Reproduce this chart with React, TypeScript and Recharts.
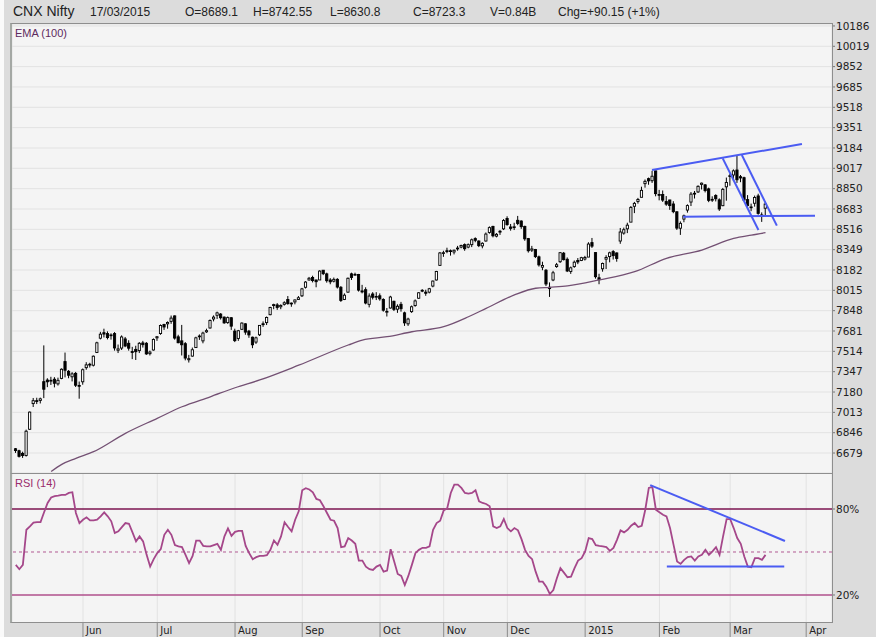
import { ComposedChart, Bar, Line, XAxis, YAxis, CartesianGrid, ReferenceLine } from 'recharts'

// CNX Nifty daily candles, 6 May 2014 .. 17 Mar 2015 (one entry per trading day)
const opens = [
    6714, 6698, 6676, 6659, 6874, 7085, 7109, 7111, 7265, 7278, 7270, 7285, 7247, 7292, 7430, 7350, 7305, 7333, 7234,
    7264, 7380, 7408, 7400, 7505, 7622, 7667, 7660, 7647, 7660, 7523, 7541, 7616, 7580, 7512, 7530, 7520, 7583, 7580, 7495, 7525,
    7625, 7660, 7735, 7740, 7760, 7805, 7633, 7600, 7577, 7445, 7475, 7545, 7640, 7600, 7674, 7706, 7780, 7810, 7820, 7795, 7750, 7790,
    7680, 7620, 7695, 7740, 7680, 7630, 7590, 7650, 7740, 7750, 7815, 7890, 7895, 7880, 7900, 7940, 7910, 7920, 7940,
    7970, 8040, 8100, 8120, 8100, 8100, 8180, 8150, 8100, 8090, 8105, 8040, 7940, 8000, 8150, 8140, 8145, 8010, 8020, 7900, 7985, 7960,
    7970, 7940, 7840, 7870, 7925, 7860, 7900, 7830, 7740, 7840, 7890, 7950, 8015, 8000, 8000, 8050, 8100, 8220,
    8320, 8340, 8340, 8330, 8360, 8370, 8390, 8370, 8390, 8440, 8420, 8380, 8420, 8490, 8540, 8460, 8500, 8520,
    8605, 8535, 8530, 8590, 8584, 8540, 8440, 8345, 8350, 8290, 8205, 8180, 8040, 8100, 8210, 8250, 8320, 8270, 8170, 8210, 8260, 8260,
    8272, 8288, 8407, 8325, 8118, 8192, 8271, 8292, 8333, 8322, 8420, 8485, 8520, 8575, 8705, 8745, 8779, 8891, 8932, 8915, 8996,
    8802, 8802, 8744, 8757, 8724, 8660, 8525, 8600, 8674, 8740, 8812, 8823, 8885, 8881, 8848, 8755, 8794, 8758, 8710, 8865,
    8953, 8962, 9003, 8948, 8940, 8760, 8695, 8730, 8790, 8634, 8689.1,
]
const highs = [
    6720, 6706, 6690, 6871, 7020, 7131, 7133, 7134, 7563, 7293, 7305, 7302, 7298, 7374, 7504, 7360, 7343, 7345, 7266,
    7373, 7425, 7420, 7480, 7593, 7674, 7700, 7678, 7662, 7672, 7570, 7645, 7632, 7605, 7551, 7560, 7590, 7600, 7590, 7520, 7620,
    7640, 7735, 7740, 7760, 7808, 7809, 7650, 7731, 7590, 7485, 7545, 7634, 7653, 7675, 7700, 7776, 7809, 7840, 7828, 7800, 7800, 7795,
    7700, 7690, 7752, 7745, 7690, 7635, 7635, 7730, 7760, 7800, 7880, 7905, 7910, 7900, 7925, 7968, 7915, 7940, 7968,
    8035, 8090, 8125, 8135, 8102, 8180, 8180, 8160, 8115, 8120, 8115, 8050, 7990, 8120, 8160, 8160, 8150, 8060, 8040, 7990, 8000, 8000,
    7990, 7950, 7870, 7970, 7930, 7900, 7920, 7840, 7790, 7890, 7940, 8000, 8025, 8020, 8035, 8095, 8175, 8330,
    8340, 8365, 8350, 8350, 8380, 8390, 8400, 8400, 8440, 8450, 8425, 8410, 8490, 8540, 8545, 8485, 8510, 8600,
    8623, 8560, 8570, 8626, 8590, 8546, 8445, 8380, 8355, 8300, 8250, 8190, 8080, 8175, 8240, 8330, 8330, 8285, 8210, 8260, 8280, 8290,
    8298, 8410, 8445, 8327, 8151, 8243, 8303, 8332, 8345, 8326, 8527, 8530, 8570, 8707, 8741, 8774, 8866, 8925, 8941, 8996, 8997,
    8840, 8835, 8789, 8758, 8747, 8663, 8581, 8637, 8721, 8822, 8831, 8877, 8900, 8887, 8858, 8787, 8804, 8770, 8856, 8941,
    8973, 9008, 9119, 8962, 8948, 8797, 8727, 8793, 8808, 8655, 8742.55,
]
const lows = [
    6680, 6642, 6639, 6650, 6869, 7057, 7081, 7086, 7130, 7220, 7238, 7218, 7233, 7285, 7300, 7293, 7267, 7221, 7125,
    7240, 7363, 7381, 7390, 7500, 7612, 7628, 7612, 7610, 7520, 7500, 7525, 7548, 7520, 7450, 7443, 7500, 7545, 7485, 7480, 7520,
    7600, 7650, 7690, 7700, 7740, 7610, 7580, 7480, 7440, 7422, 7470, 7542, 7608, 7580, 7666, 7700, 7760, 7780, 7775, 7740, 7740, 7690,
    7590, 7600, 7690, 7650, 7625, 7540, 7575, 7640, 7715, 7730, 7810, 7860, 7855, 7860, 7890, 7897, 7880, 7900, 7936,
    7960, 8030, 8095, 8080, 8040, 8100, 8140, 8078, 8065, 8080, 8030, 7920, 7935, 7995, 8100, 8135, 8005, 7990, 7900, 7875, 7940, 7935,
    7930, 7840, 7800, 7865, 7845, 7830, 7840, 7723, 7723, 7830, 7880, 7945, 8000, 7970, 7990, 8040, 8095, 8215,
    8290, 8320, 8300, 8310, 8340, 8360, 8340, 8360, 8370, 8410, 8370, 8360, 8415, 8480, 8450, 8450, 8470, 8510,
    8545, 8505, 8510, 8550, 8520, 8422, 8325, 8330, 8280, 8210, 8180, 8050, 7961, 8090, 8200, 8240, 8260, 8165, 8150, 8200, 8230, 8255,
    8260, 8288, 8363, 8111, 8065, 8168, 8190, 8245, 8268, 8250, 8397, 8472, 8485, 8575, 8649, 8727, 8779, 8858, 8882, 8897, 8787,
    8754, 8741, 8709, 8676, 8648, 8511, 8470, 8574, 8653, 8707, 8769, 8815, 8843, 8819, 8739, 8741, 8745, 8667, 8706, 8751,
    8874, 8912, 8897, 8903, 8751, 8701, 8665, 8702, 8636, 8577, 8630.8,
]
const closes = [
    6699, 6652, 6659, 6858, 7015, 7109, 7108, 7124, 7203, 7264, 7276, 7252, 7276, 7367, 7359, 7318, 7329, 7236, 7230,
    7363, 7403, 7403, 7474, 7584, 7655, 7656, 7627, 7649, 7542, 7534, 7632, 7558, 7540, 7511, 7511, 7580, 7569, 7493, 7508, 7611,
    7634, 7726, 7714, 7751, 7787, 7623, 7585, 7568, 7459, 7454, 7527, 7625, 7640, 7664, 7684, 7767, 7795, 7830, 7790, 7748, 7791, 7721,
    7602, 7683, 7746, 7672, 7649, 7568, 7625, 7727, 7739, 7792, 7874, 7898, 7875, 7891, 7913, 7906, 7904, 7936, 7954,
    8027, 8083, 8114, 8095, 8086, 8173, 8152, 8094, 8085, 8105, 8042, 7932, 7975, 8114, 8121, 8146, 8017, 8002, 7911, 7968, 7958, 7965,
    7945, 7852, 7842, 7960, 7859, 7884, 7864, 7748, 7779, 7880, 7928, 7995, 8014, 7991, 8028, 8091, 8170, 8322,
    8324, 8338, 8337, 8344, 8362, 8383, 8357, 8390, 8430, 8426, 8382, 8401, 8477, 8530, 8463, 8475, 8494, 8588,
    8555, 8524, 8537, 8564, 8538, 8438, 8340, 8355, 8292, 8224, 8219, 8067, 8029, 8159, 8225, 8324, 8267, 8174, 8200, 8246, 8248, 8283,
    8285, 8395, 8378, 8127, 8102, 8235, 8285, 8323, 8300, 8277, 8494, 8513, 8550, 8696, 8729, 8761, 8836, 8910, 8914, 8952, 8809,
    8797, 8756, 8723, 8711, 8661, 8526, 8565, 8627, 8711, 8805, 8809, 8869, 8895, 8834, 8754, 8762, 8767, 8683, 8844, 8901,
    8956, 8996, 8923, 8938, 8756, 8712, 8700, 8777, 8647, 8633, 8723.3,
]

// RSI (14)
const rsiValues = [
    41, 38, 41, 65.5, 67.9, 70.5, 70.9, 70.9, 77.7, 84.2, 88, 89, 89.3, 89.8, 89.8, 91.2, 91.7, 77.2, 70.2,
    72.5, 74.2, 72.1, 72.1, 72.5, 74.9, 77.7, 74.9, 71.4, 63.2, 64.4, 67.4, 70.2, 69.7, 63.7, 57.4, 60.9, 57.4, 48, 39.8, 45,
    49.2, 52, 62, 65.5, 62, 54.8, 53.9, 53.4, 48, 42.2, 47.3, 58, 58, 54.3, 53.9, 53.9, 54.8, 55.7, 51.5, 60.9, 66.5, 61.3,
    64.1, 64.8, 64.8, 54.3, 49.2, 45, 46.4, 47.3, 47.3, 47.8, 51.5, 58, 55, 60.9, 70.7, 67.4, 64.4, 72.5, 78.4,
    93.1, 94.5, 93.6, 91.7, 87, 86.1, 81.9, 77.2, 72.5, 71.8, 66.7, 53.4, 53.9, 59.7, 58, 55.7, 44, 44, 39.8, 38, 37.5, 39.8,
    41, 36.3, 37, 52, 43.4, 34.7, 33.3, 27, 33.3, 41, 49.2, 51.5, 52.9, 52.9, 53.9, 65.5, 70.2, 71.8,
    79, 80.5, 91.2, 97, 97, 94.7, 91.2, 90.8, 91.2, 93.1, 85.4, 84.2, 83.5, 81.9, 67.9, 66.7, 67.9, 73,
    66.7, 64.4, 66.7, 65.1, 59, 51.5, 47.3, 45, 36.3, 29.3, 29.3, 25.8, 20.7, 23.5, 31.7, 38.7, 35.6, 32.4, 32.8, 38.7, 44, 45.7,
    50.4, 59.7, 59, 54.8, 54.3, 53.9, 53.4, 50.8, 52.9, 58.5, 65.1, 63.7, 65.5, 68.3, 70.2, 67.4, 68.3, 79.5, 94.7, 95.4, 79.5,
    77.7, 76, 74.9, 66.7, 55, 43.4, 41.7, 44.5, 46.4, 46.9, 44, 46.9, 48, 51.5, 48, 50.4, 53.4, 48, 60.9, 73,
    73, 66.7, 59.7, 55.7, 46.9, 39.8, 39.4, 45.7, 45.7, 44.5, 48,
]

// EMA (100) at these trading-day positions
const emaDays = [10, 13, 17, 22, 31, 40, 47, 55, 62, 69, 80, 94, 98, 105, 112, 121, 128, 133, 141, 147, 151, 156, 165, 175, 184, 194, 203, 208, 212]
const emaValues = [6527, 6586, 6635, 6690, 6841, 6964, 7059, 7141, 7215, 7279, 7400, 7566, 7607, 7634, 7675, 7716, 7798, 7867, 7977, 8032, 8040, 8051, 8100, 8168, 8278, 8346, 8442, 8469, 8488]

// first trading day of each month, and its label
const monthDays = [19, 40, 62, 81, 103, 121, 139, 161, 182, 202, 223.5]
const monthLabels = ['Jun', 'Jul', 'Aug', 'Sep', 'Oct', 'Nov', 'Dec', '2015', 'Feb', 'Mar', 'Apr']

const priceTicks = [6679, 6846, 7013, 7180, 7347, 7514, 7681, 7848, 8015, 8182, 8349, 8516, 8683, 8850, 9017, 9184, 9351, 9518, 9685, 9852, 10019, 10186]
const rsiTicks = [20, 80]

// hand-drawn trend lines (trading day, value)
const priceTrend = [
    [[179.9, 9003], [222.3, 9217]],
    [[188.7, 8620], [226, 8628]],
    [[199.9, 9099], [210, 8510]],
    [[205.3, 9126], [215.2, 8546]],
]
const rsiTrend = [
    [[179.4, 96.7], [217.5, 57.7]],
    [[184.1, 39.8], [217.3, 39.8]],
]

const X_DOMAIN = [-1.07, 230.8]

const rows = closes.map((c, i) => {
    const k = emaDays.indexOf(i)
    return {
        i,
        range: [lows[i], highs[i]],
        open: opens[i],
        high: highs[i],
        low: lows[i],
        close: c,
        rsi: rsiValues[i],
        ema: k >= 0 ? emaValues[k] : null,
    }
})

const Candle = (props: any) => {
    const { x, y, width, height, payload } = props
    if (x == null || !payload) return null
    const top = height < 0 ? y + height : y
    const h = Math.abs(height)
    const k = h / (payload.high - payload.low || 1)
    const cx = x + width / 2
    const yO = top + (payload.high - payload.open) * k
    const yC = top + (payload.high - payload.close) * k
    const up = payload.close >= payload.open
    return (
        <g>
            <line x1={cx} x2={cx} y1={top} y2={top + h} stroke="#000" strokeWidth={1} />
            <rect
                x={cx - 1.1}
                y={Math.min(yO, yC)}
                width={2.2}
                height={Math.max(0.8, Math.abs(yC - yO))}
                fill={up ? '#fff' : '#000'}
                stroke="#000"
                strokeWidth={0.9}
            />
        </g>
    )
}

const MonthTick = (props: any) => {
    const { x, y, payload } = props
    const idx = monthDays.indexOf(payload.value)
    return (
        <text x={x + 3} y={y - 5} fill="#222" fontSize={10} fontFamily="'DejaVu Sans', Verdana, sans-serif">
            {monthLabels[idx]}
        </text>
    )
}

const axisText = { fill: '#222', fontSize: 10.5, fontFamily: "'DejaVu Sans', Verdana, sans-serif" }

const headerItems = [
    { text: '17/03/2015', left: 90 },
    { text: 'O=8689.1', left: 185 },
    { text: 'H=8742.55', left: 253 },
    { text: 'L=8630.8', left: 330 },
    { text: 'C=8723.3', left: 413 },
    { text: 'V=0.84B', left: 490 },
    { text: 'Chg=+90.15 (+1%)', left: 558 },
]

export default function App() {
    return (
        <div style={{
            position: 'absolute', left: 0, top: 0, width: 876, height: 637, overflow: 'hidden',
            background: '#dcdcdc', fontFamily: "'Liberation Sans', Arial, sans-serif",
        }}>
            <div style={{ position: 'absolute', left: 0, top: 0, width: 4, height: 637, background: '#fafafa' }} />
            <div style={{ position: 'absolute', left: 13, top: 3, fontSize: 14, color: '#222' }}>CNX Nifty</div>
            {headerItems.map(h => (
                <div key={h.text} style={{ position: 'absolute', left: h.left, top: 5, fontSize: 12, color: '#222', whiteSpace: 'nowrap' }}>
                    {h.text}
                </div>
            ))}

            <div style={{ position: 'absolute', left: 0, top: 0 }}>
                <ComposedChart width={876} height={473} data={rows} margin={{ top: 24, right: 0, left: 12, bottom: 0 }}>
                    <CartesianGrid stroke="#e2e2e2" fill="#f4f4f4" />
                    <XAxis dataKey="i" type="number" domain={X_DOMAIN} allowDataOverflow ticks={monthDays} interval={0}
                        height={0} tick={false} axisLine={false} tickLine={false} />
                    <YAxis orientation="right" width={44} type="number" domain={[6515, 10202]} allowDataOverflow
                        ticks={priceTicks} interval={0} tick={axisText} tickSize={3} tickMargin={1}
                        axisLine={false} tickLine={{ stroke: '#777' }} />
                    <Bar dataKey="range" barSize={3} shape={Candle} isAnimationActive={false} />
                    <Line dataKey="ema" type="monotone" connectNulls stroke="#735073" strokeWidth={1.3}
                        dot={false} activeDot={false} isAnimationActive={false} />
                    {priceTrend.map((s, n) => (
                        <ReferenceLine key={n} segment={[{ x: s[0][0], y: s[0][1] }, { x: s[1][0], y: s[1][1] }]}
                            stroke="#4b5cf2" strokeWidth={2} ifOverflow="visible" />
                    ))}
                </ComposedChart>
            </div>

            <div style={{ position: 'absolute', left: 0, top: 473 }}>
                <ComposedChart width={876} height={164} data={rows} margin={{ top: 1, right: 0, left: 12, bottom: 0 }}>
                    <CartesianGrid horizontal={false} stroke="#e2e2e2" fill="#f4f4f4" />
                    <XAxis dataKey="i" type="number" domain={X_DOMAIN} allowDataOverflow ticks={monthDays} interval={0}
                        height={15} axisLine={false} tickSize={15} tickLine={{ stroke: '#8a8a8a' }} tick={MonthTick} />
                    <YAxis orientation="right" width={44} type="number" domain={[1.16, 104.42]} allowDataOverflow
                        ticks={rsiTicks} interval={0} tick={axisText} tickSize={3} tickMargin={1}
                        tickFormatter={(v: number) => `${v}%`} axisLine={false} tickLine={{ stroke: '#777' }} />
                    <ReferenceLine y={80} stroke="#7d1450" strokeWidth={1.5} />
                    <ReferenceLine y={50} stroke="#b25a92" strokeDasharray="3 3" />
                    <ReferenceLine y={20} stroke="#b0508c" strokeWidth={1.5} />
                    <Line dataKey="rsi" type="linear" stroke="#a5478a" strokeWidth={1.8}
                        dot={false} activeDot={false} isAnimationActive={false} />
                    {rsiTrend.map((s, n) => (
                        <ReferenceLine key={n} segment={[{ x: s[0][0], y: s[0][1] }, { x: s[1][0], y: s[1][1] }]}
                            stroke="#4b5cf2" strokeWidth={2} ifOverflow="visible" />
                    ))}
                </ComposedChart>
            </div>

            <div style={{ position: 'absolute', left: 10, top: 23, width: 823, height: 451, boxSizing: 'border-box', border: '1px solid #8e8e8e', borderLeft: '2px solid #a4a8a4', pointerEvents: 'none' }} />
            <div style={{ position: 'absolute', left: 10, top: 473, width: 823, height: 150, boxSizing: 'border-box', border: '1px solid #8e8e8e', borderLeft: '2px solid #a4a8a4', pointerEvents: 'none' }} />

            <div style={{ position: 'absolute', left: 15, top: 27, fontSize: 11, color: '#5e2a5e' }}>EMA (100)</div>
            <div style={{ position: 'absolute', left: 15, top: 477, fontSize: 11, color: '#9a2c6c' }}>RSI (14)</div>
        </div>
    )
}
